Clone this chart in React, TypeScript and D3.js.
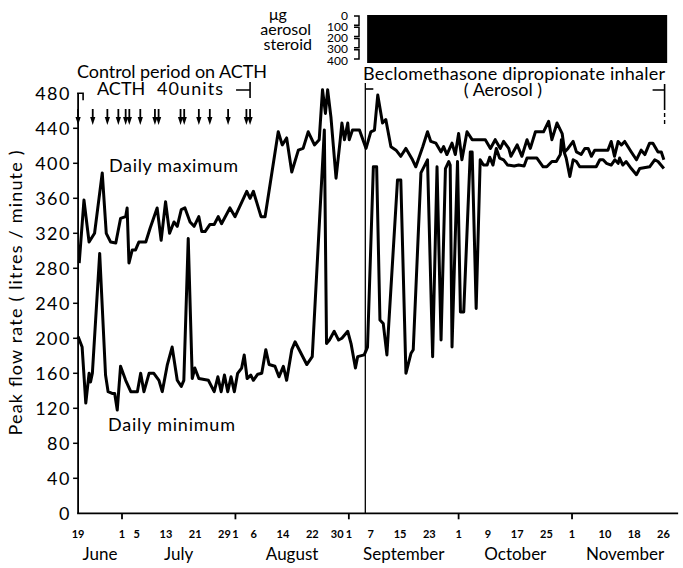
import * as d3 from 'd3';

const FONT = "Lato, 'Noto Sans', 'DejaVu Sans', sans-serif";

// x values are days counted from 19 June, y values are peak flow (litres/minute)
const maxFlow: [number, number][] = [
  [0.3, 286], [1.6, 358], [3.0, 310], [4.5, 320], [6.6, 389], [7.7, 320], [8.9, 310], [10.3, 309],
  [11.6, 337], [13.0, 339], [13.4, 349], [13.9, 286], [14.8, 301], [15.7, 301], [16.6, 310], [18.5, 310],
  [19.7, 326], [21.6, 349], [22.7, 312], [23.9, 356], [25.0, 320], [26.2, 333], [27.1, 328], [28.2, 347],
  [29.2, 349], [30.6, 333], [31.7, 328], [33.0, 339], [33.8, 322], [34.7, 322], [36.0, 330], [37.2, 330],
  [38.3, 339], [39.2, 331], [41.5, 349], [42.9, 339], [46.1, 368], [47.0, 360], [47.9, 368], [50.0, 339],
  [51.1, 339], [54.7, 436], [55.8, 421], [57.0, 429], [58.4, 390], [60.2, 415], [61.5, 417], [62.9, 436],
  [64.6, 421], [65.9, 427], [66.8, 484], [67.6, 457], [68.2, 484], [69.1, 453], [70.5, 383], [71.6, 425],
  [72.1, 446], [72.8, 427], [73.7, 446], [74.1, 427], [75.0, 438], [76.9, 438], [78.7, 417], [80.0, 436],
  [81.0, 438], [81.9, 478], [83.2, 446], [84.1, 450], [85.5, 419], [86.9, 415], [88.2, 408], [89.6, 417],
  [91.4, 404], [92.3, 396], [94.2, 419], [95.5, 436], [96.4, 425], [97.8, 423], [99.2, 413], [99.9, 419],
  [100.8, 410], [102.2, 423], [103.1, 410], [104.0, 434], [104.9, 404], [106.3, 436], [107.7, 427], [111.3, 427],
  [112.7, 417], [114.0, 427], [115.4, 417], [116.3, 425], [117.7, 417], [118.3, 408], [120.0, 421], [121.3, 408],
  [122.7, 427], [123.6, 417], [125.0, 436], [127.2, 436], [128.6, 448], [129.5, 427], [130.9, 446], [132.3, 434],
  [133.0, 413], [133.9, 417], [135.3, 425], [136.2, 413], [137.5, 410], [138.5, 417], [139.4, 417], [140.3, 408],
  [141.2, 415], [144.8, 415], [145.7, 425], [146.6, 408], [147.6, 425], [148.5, 421], [149.4, 425], [150.3, 419],
  [151.2, 413], [152.6, 404], [153.9, 415], [154.9, 410], [156.2, 423], [157.1, 423], [158.5, 413], [159.4, 413],
  [160.1, 404],
];

const minFlow: [number, number][] = [
  [0.0, 202], [1.1, 190], [2.1, 126], [3.0, 160], [3.4, 150], [3.9, 160], [5.9, 297], [7.5, 158],
  [8.2, 139], [9.3, 137], [10.0, 137], [10.7, 118], [11.6, 168], [13.0, 152], [14.4, 139], [16.2, 139],
  [17.1, 160], [18.0, 139], [19.4, 160], [20.7, 160], [22.1, 152], [23.0, 139], [24.4, 170], [25.7, 190],
  [27.1, 152], [28.2, 145], [28.9, 152], [30.1, 314], [31.2, 154], [31.9, 166], [33.0, 154], [35.6, 152],
  [37.2, 139], [38.2, 156], [39.1, 139], [40.0, 158], [40.9, 139], [41.8, 156], [42.7, 139], [43.6, 160],
  [44.7, 166], [45.4, 181], [46.2, 154], [47.2, 158], [47.9, 152], [49.1, 159], [50.2, 160], [51.3, 187],
  [52.2, 170], [53.8, 168], [54.9, 156], [56.1, 168], [57.0, 152], [58.4, 187], [59.3, 196], [62.5, 170],
  [64.0, 179], [67.3, 438], [67.9, 194], [68.7, 198], [70.0, 208], [71.2, 198], [72.1, 200], [73.7, 208],
  [74.6, 194], [75.8, 166], [76.4, 179], [78.2, 181], [79.1, 190], [80.7, 396], [81.6, 396], [82.5, 221],
  [83.4, 217], [84.4, 181], [87.3, 381], [88.2, 381], [89.6, 160], [91.0, 183], [91.6, 187], [93.7, 389],
  [95.5, 404], [96.9, 179], [98.1, 396], [99.2, 198], [100.4, 394], [101.3, 402], [101.7, 398], [102.2, 190],
  [103.7, 402], [104.5, 230], [105.4, 230], [107.2, 413], [107.7, 413], [108.8, 234], [109.9, 404], [110.8, 398],
  [111.8, 398], [112.5, 407], [113.4, 398], [114.3, 417], [115.2, 406], [116.3, 404], [117.4, 398], [119.2, 397],
  [120.4, 398], [121.9, 397], [122.7, 406], [125.4, 406], [127.1, 396], [128.1, 396], [129.5, 402], [130.7, 402],
  [131.8, 410], [132.1, 427], [132.5, 417], [133.4, 406], [134.4, 385], [135.3, 404], [136.2, 402], [137.1, 396],
  [141.6, 396], [142.6, 404], [143.5, 404], [144.4, 400], [145.7, 398], [146.7, 404], [147.6, 400], [148.0, 406],
  [148.9, 398], [149.8, 402], [151.2, 394], [152.6, 387], [153.5, 394], [156.2, 396], [157.6, 404], [158.5, 402],
  [160.1, 394],
];

// ACTH 40 units injections (days from 19 June)
const acthDays = [0, 4, 8, 11, 13, 14, 17, 21, 22, 28, 29, 33, 36, 41, 46, 47];
const acthEndDay = 47;

// aerosol steroid period
const aerosolStartDay = 78.5;
const aerosolEndDay = 160.3;
const doseBarStart = 79;
const doseBarEnd = 161;
const doseBarValue = 400;
const doseTicks = [0, 100, 200, 300, 400];

const yTicks = d3.range(0, 481, 40);
const xTickDays = [0, 12, 16, 24, 32, 40, 43, 48, 56, 64, 72, 74, 80, 88, 96, 104, 112, 120, 128, 135, 144, 152, 160];
const xTickLabels = ['19', '1', '5', '13', '21', '29', '1', '6', '14', '22', '30', '1', '7', '15', '23', '1', '9', '17', '25', '1', '10', '18', '26'];
const monthStarts = [0, 12, 43, 74, 104, 135];
const monthNames = ['June', 'July', 'August', 'September', 'October', 'November'];
const axisEndDay = 164;

const W = 683;
const H = 568;

export default function App() {
  const x = d3.scaleLinear().domain([0, 160]).range([78.1, 663.5]);
  const y = d3.scaleLinear().domain([0, 480]).range([513.3, 93.3]);
  const dose = d3.scaleLinear().domain([0, 400]).range([15, 60]);

  const line = d3
    .line<[number, number]>()
    .x((d) => x(d[0]))
    .y((d) => y(d[1]));

  const x0 = x(0);
  const yBase = y(0);
  const monthTicks = monthStarts.slice(1);

  return (
    <svg
      width={W}
      height={H}
      viewBox={`0 0 ${W} ${H}`}
      style={{ position: 'absolute', left: 0, top: 0, background: '#fff' }}
      fontFamily={FONT}
    >
      <rect width={W} height={H} fill="#fff" />

      {/* dose scale and bar */}
      <text x={278} y={20} fontSize={16} textAnchor="middle">μg</text>
      <text x={311} y={35} fontSize={16} textAnchor="end">aerosol</text>
      <text x={312} y={50} fontSize={16} textAnchor="end">steroid</text>
      {doseTicks.map((d) => (
        <text key={d} x={348} y={dose(d)} fontSize={12} textAnchor="end" dominantBaseline="central">
          {d}
        </text>
      ))}
      {doseTicks.slice(0, -1).map((d, i) => (
        <path
          key={d}
          d={`M354,${dose(d) + 1}H359V${dose(doseTicks[i + 1]) - 1}H354`}
          fill="none"
          stroke="#000"
          strokeWidth={1.5}
        />
      ))}
      <rect
        x={x(doseBarStart)}
        y={dose(0)}
        width={x(doseBarEnd) - x(doseBarStart)}
        height={dose(doseBarValue) - dose(0) + 3}
        fill="#000"
      />

      {/* control period annotation */}
      <text x={77} y={78} fontSize={18} textLength={190} lengthAdjust="spacing">Control period on ACTH</text>
      <text x={97} y={95} fontSize={18}>ACTH</text>
      <text x={157} y={95} fontSize={18} textLength={66} lengthAdjust="spacing">40units</text>
      <path
        d={`M${x(acthEndDay) - 14},90H${x(acthEndDay)}M${x(acthEndDay)},82V98`}
        stroke="#000"
        strokeWidth={1.6}
        fill="none"
      />
      {acthDays.map((d, i) => (
        <g key={i} transform={`translate(${x(d)},0)`}>
          <line x1={0} x2={0} y1={109} y2={119} stroke="#000" strokeWidth={1.8} />
          <path d="M-2.6,117L2.6,117L0,125Z" fill="#000" />
        </g>
      ))}

      {/* aerosol annotation */}
      <text x={363} y={80} fontSize={18} textLength={302} lengthAdjust="spacing">
        Beclomethasone dipropionate inhaler
      </text>
      <text x={503} y={96} fontSize={18} textAnchor="middle">( Aerosol )</text>
      <line x1={x(aerosolStartDay)} x2={x(aerosolStartDay)} y1={83} y2={yBase} stroke="#000" strokeWidth={1.3} />
      <line x1={x(aerosolStartDay)} x2={x(aerosolStartDay) + 8} y1={89} y2={89} stroke="#000" strokeWidth={1.6} />
      <path
        d={`M${x(aerosolEndDay) - 12},90H${x(aerosolEndDay)}M${x(aerosolEndDay)},84V110`}
        stroke="#000"
        strokeWidth={1.6}
        fill="none"
      />
      <line
        x1={x(aerosolEndDay)}
        x2={x(aerosolEndDay)}
        y1={113}
        y2={125}
        stroke="#000"
        strokeWidth={1.4}
        strokeDasharray="4 3"
      />

      {/* y axis */}
      <line x1={x0} x2={x0} y1={y(480)} y2={yBase} stroke="#000" strokeWidth={1.8} />
      <path d={`M${x0 - 1},${y(480)}H${x0 + 5}V${y(480) + 7}`} stroke="#000" strokeWidth={1.6} fill="none" />
      {yTicks.map((t) => (
        <g key={t}>
          {t < 480 && t > 0 && <line x1={x0 - 5} x2={x0} y1={y(t)} y2={y(t)} stroke="#000" strokeWidth={1.5} />}
          <text
            x={71}
            y={y(t)}
            fontSize={18}
            textAnchor="end"
            dominantBaseline="central"
            letterSpacing={1.5}
          >
            {t}
          </text>
        </g>
      ))}
      <text
        transform="translate(22,293) rotate(-90)"
        fontSize={18}
        textAnchor="middle"
        textLength={285}
        lengthAdjust="spacing"
      >
        Peak flow rate ( litres / minute )
      </text>

      {/* x axis */}
      <line x1={x0 - 1} x2={x(axisEndDay)} y1={yBase} y2={yBase} stroke="#000" strokeWidth={1.8} />
      {monthTicks.map((d) => (
        <line key={d} x1={x(d)} x2={x(d)} y1={yBase} y2={yBase + 6} stroke="#000" strokeWidth={1.8} />
      ))}
      {xTickDays.map((d, i) => {
        const next = xTickDays[i + 1];
        const crowded = next !== undefined && x(next) - x(d) < 10;
        return (
          <text
            key={i}
            x={crowded ? x(d) + 2 : x(d)}
            y={538}
            fontSize={11}
            fontWeight="bold"
            textAnchor={crowded ? 'end' : 'middle'}
          >
            {xTickLabels[i]}
          </text>
        );
      })}
      {monthNames.map((m, i) => {
        const s = monthStarts[i];
        const e = i + 1 < monthStarts.length ? monthStarts[i + 1] : axisEndDay;
        return (
          <text key={m} x={(x(s) + x(e)) / 2} y={560} fontSize={17} textAnchor="middle">
            {m}
          </text>
        );
      })}

      {/* series */}
      <path d={line(maxFlow) ?? ''} fill="none" stroke="#000" strokeWidth={3} strokeLinejoin="round" />
      <path d={line(minFlow) ?? ''} fill="none" stroke="#000" strokeWidth={3} strokeLinejoin="round" />
      <text x={109} y={172} fontSize={18} textLength={129} lengthAdjust="spacing">Daily maximum</text>
      <text x={108} y={431} fontSize={18} textLength={127} lengthAdjust="spacing">Daily minimum</text>
    </svg>
  );
}
